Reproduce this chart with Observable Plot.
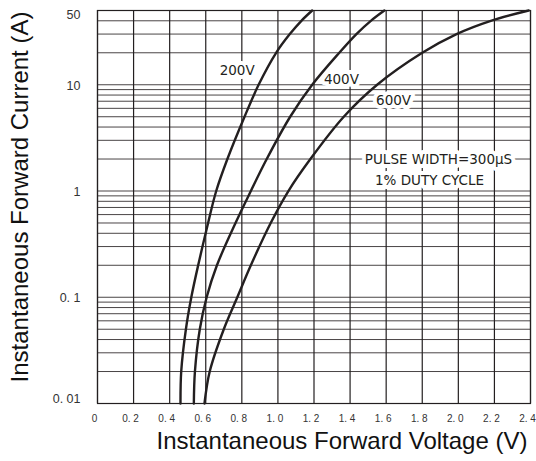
<!DOCTYPE html>
<html>
<head>
<meta charset="utf-8">
<script src="https://cdn.jsdelivr.net/npm/d3@7"></script>
<script src="https://cdn.jsdelivr.net/npm/@observablehq/plot@0.6"></script>
<style>
  html, body { margin: 0; padding: 0; background: #fff; }
  #chart { width: 536px; height: 461px; }
</style>
</head>
<body>
<div id="chart"></div>
<script>
// Forward current (A) and the forward voltage (V) of each curve
const currents = [0.01, 0.02, 0.05, 0.1, 0.2, 0.5, 1, 2, 5, 10, 20, 30, 40, 50];
const v200 = [0.46, 0.464, 0.49, 0.52, 0.558, 0.613, 0.658, 0.72, 0.815, 0.893, 0.99, 1.066, 1.13, 1.19];
const v400 = [0.534, 0.54, 0.567, 0.605, 0.662, 0.765, 0.85, 0.938, 1.068, 1.19, 1.34, 1.435, 1.515, 1.59];
const v600 = [0.593, 0.622, 0.7, 0.775, 0.85, 0.96, 1.058, 1.18, 1.365, 1.55, 1.8, 1.99, 2.18, 2.39];

const seriesNames = ["200V", "400V", "600V"];

const xTicks = [0, 0.2, 0.4, 0.6, 0.8, 1.0, 1.2, 1.4, 1.6, 1.8, 2.0, 2.2, 2.4];
const xTickLabels = ["0", "0. 2", "0. 4", "0. 6", "0. 8", "1. 0", "1. 2", "1. 4", "1. 6", "1. 8", "2. 0", "2. 2", "2. 4"];
const yTicks = [0.01, 0.1, 1, 10, 50];
const yTickLabels = ["0. 01", "0. 1", "1", "10", "50"];

const xTitle = "Instantaneous Forward Voltage (V)";
const yTitle = "Instantaneous Forward Current (A)";

// annotation texts and where they sit (in data units)
const noteTexts = ["200V", "400V", "600V", "PULSE WIDTH=300μS", "1% DUTY CYCLE"];
const noteV = [0.774, 1.352, 1.641, 1.89, 1.84];
const noteA = [13.7, 11.2, 7.07, 1.96, 1.24];

// build tables
const curves = [];
[v200, v400, v600].forEach((vs, k) => {
  vs.forEach((v, j) => curves.push({series: seriesNames[k], v, a: currents[j]}));
});
const notes = noteTexts.map((t, j) => ({t, v: noteV[j], a: noteA[j]}));
const xTickTable = xTicks.map((v, j) => ({v, t: xTickLabels[j]}));
const yTickTable = yTicks.map((a, j) => ({a, t: yTickLabels[j]}));
const yMin = d3.min(yTicks), yMax = d3.max(yTicks);

const ink = "#231f20";
const yLabelStyle = {y: "a", text: "t", frameAnchor: "left", textAnchor: "end", dx: -17, fontSize: 12.5, fill: "#333"};

const chart = Plot.plot({
  width: 536,
  height: 461,
  marginLeft: 97,
  marginRight: 6,
  marginTop: 10,
  marginBottom: 58,
  style: {background: "#fff", fontFamily: "'Liberation Sans', Arial, sans-serif"},
  x: {domain: [0, 2.4], axis: null},
  y: {type: "log", domain: [0.01, 50], axis: null},
  marks: [
    Plot.gridY({ticks: 50, stroke: "#4a4546", strokeOpacity: 1, strokeWidth: 1}),
    Plot.gridX({ticks: xTicks, stroke: ink, strokeOpacity: 1, strokeWidth: 1.2}),
    Plot.frame({stroke: ink, strokeWidth: 1.2}),
    // tick labels
    Plot.text(xTickTable, {x: "v", text: "t", frameAnchor: "bottom", lineAnchor: "middle", dy: 15, dx: -3,
                           fontSize: 10, fill: "#333"}),
    Plot.text(yTickTable, {...yLabelStyle, filter: (d) => d.a !== yMin && d.a !== yMax, dy: 1}),
    Plot.text(yTickTable, {...yLabelStyle, filter: (d) => d.a === yMax, dy: 4}),
    Plot.text(yTickTable, {...yLabelStyle, filter: (d) => d.a === yMin, dy: -5}),
    // curves
    Plot.line(curves, {x: "v", y: "a", z: "series", stroke: ink, strokeWidth: 2.4, curve: "catmull-rom"}),
    // annotations
    Plot.text(notes, {x: "v", y: "a", text: "t", fill: ink, stroke: "#fff", strokeWidth: 8,
                      fontSize: 13.5, fontFamily: "'DejaVu Sans', sans-serif"}),
    // axis titles
    Plot.text([xTitle], {frameAnchor: "bottom", textAnchor: "middle", lineAnchor: "middle",
                         dx: 28, dy: 38, fontSize: 24, fill: "#111"}),
    Plot.text([yTitle], {frameAnchor: "left", textAnchor: "middle", lineAnchor: "middle", rotate: -90,
                         dx: -77, dy: -10, fontSize: 24, fill: "#111"})
  ]
});
document.getElementById("chart").appendChild(chart);
</script>
</body>
</html>
